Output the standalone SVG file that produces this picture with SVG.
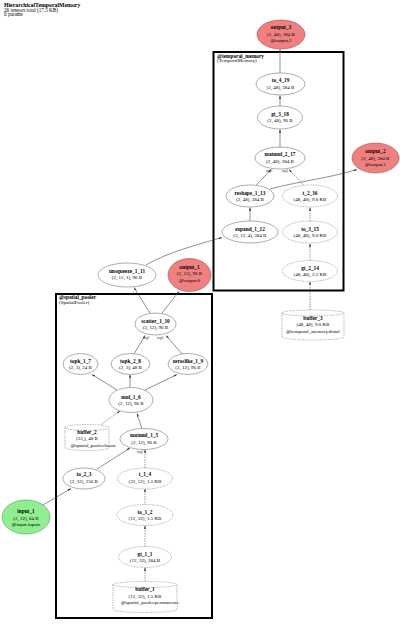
<svg xmlns="http://www.w3.org/2000/svg" width="400" height="624" viewBox="0 0 400 624">
<defs>
<marker id="ah" viewBox="0 0 6 4" refX="6" refY="2" markerWidth="3.2" markerHeight="2.2" markerUnits="userSpaceOnUse" orient="auto"><path d="M0,0 L6,2 L0,4 z" fill="#333"/></marker>
</defs>
<style>
text{font-family:"Liberation Serif","Times New Roman",serif;fill:#000}
.n{font-weight:bold;font-size:5.3px}
.d{font-size:5px}
.t{font-weight:bold;font-size:5.8px}
.s{font-size:5.2px}
.cl{font-weight:bold;font-size:5.3px}
.el{font-size:3.6px;fill:#333}
.nd{fill:#fff;stroke:#777;stroke-width:0.6}
.dn{fill:#fff;stroke:#888;stroke-width:0.6;stroke-dasharray:1.5,1}
.out{fill:#f08080;stroke:#a05050;stroke-width:0.6}
.inp{fill:#90ee90;stroke:#50a050;stroke-width:0.6}
.clu{fill:none;stroke:#000;stroke-width:2}
.e{fill:none;stroke:#444;stroke-width:0.6;marker-end:url(#ah)}
.ed{fill:none;stroke:#555;stroke-width:0.6;stroke-dasharray:1.5,1;marker-end:url(#ah)}
</style>
<rect width="400" height="624" fill="#fff"/>
<g id="title">
<text class="t" x="4" y="7">HierarchicalTemporalMemory</text>
<text class="s" x="4" y="11.5">26 tensors total (17.5 KB)</text>
<text class="s" x="4" y="16">0 params</text>
</g>
<g id="cluster_temporal_memory">
<rect class="clu" x="213.5" y="52" width="130" height="238.5"/>
<text class="cl" x="217" y="57.5">@temporal_memory</text>
<text class="d" x="217" y="62">(TemporalMemory)</text>
</g>
<g id="cluster_spatial_pooler">
<rect class="clu" x="56" y="294" width="156" height="324"/>
<text class="cl" x="59" y="299">@spatial_pooler</text>
<text class="d" x="59" y="303.5">(SpatialPooler)</text>
</g>
<g id="edges">
<path class="ed" d="M145,581.5 L145,567.5"/>
<path class="ed" d="M145,547 L145,525.5"/>
<path class="ed" d="M145,505 L145,488.5"/>
<path class="ed" d="M145,468 L145,449.5"/>
<path class="e" d="M43,505 L71,488.5"/>
<path class="e" d="M97,469 L130,448"/>
<path class="e" d="M142,429 L137,413.5"/>
<path class="ed" d="M101,424.5 L120,411"/>
<path class="e" d="M117,390 L92,374.5"/>
<path class="e" d="M130,387 L130,374.5"/>
<path class="e" d="M145,390 L177,374.5"/>
<path class="e" d="M134,354 L145,335.5"/>
<path class="e" d="M182,354 L166,335.5"/>
<path class="e" d="M150,313 L134,287.5"/>
<path class="e" d="M162,313 L179,291.5"/>
<path class="e" d="M146,265 C168,252 200,244 222,237.5"/>
<path class="e" d="M250,221 L250,207.5"/>
<path class="e" d="M256,185.5 L271,169.5"/>
<path class="e" d="M270,189 C300,181 330,178 357,169.5"/>
<path class="ed" d="M310,310 L310,281.5"/>
<path class="ed" d="M310,260.5 L310,243.5"/>
<path class="ed" d="M310,221.5 L310,207.5"/>
<path class="ed" d="M304,185.5 L289,169.5"/>
<path class="e" d="M280,147 L280,129.5"/>
<path class="e" d="M280,106 L280,95.5"/>
<path class="e" d="M280,73 L280,49.5"/>
<text class="el" x="266" y="172">arg0</text>
<text class="el" x="282" y="172">arg1</text>
<text class="el" x="143" y="339">arg2</text>
<text class="el" x="157" y="339">arg0</text>
<text class="el" x="137" y="452.5">arg1</text>
</g>
<g id="output_3">
<ellipse class="out" cx="281" cy="34.5" rx="24" ry="14.5"/>
<text class="n" x="281" y="28.5" text-anchor="middle">output_3</text>
<text class="d" x="281" y="35.5" text-anchor="middle">(2, 48), 384 B</text>
<text class="d" x="281" y="42" text-anchor="middle">@output.2</text>
</g>
<g id="to_4_19">
<ellipse class="nd" cx="280.5" cy="84" rx="24.5" ry="11"/>
<text class="n" x="280.5" y="82" text-anchor="middle">to_4_19</text>
<text class="d" x="280.5" y="88.5" text-anchor="middle">(2, 48), 384 B</text>
</g>
<g id="gt_3_18">
<ellipse class="nd" cx="280" cy="117.5" rx="22.5" ry="11.5"/>
<text class="n" x="280" y="115.5" text-anchor="middle">gt_3_18</text>
<text class="d" x="280" y="122" text-anchor="middle">(2, 48), 96 B</text>
</g>
<g id="matmul_2_17">
<ellipse class="nd" cx="280" cy="158" rx="25" ry="11"/>
<text class="n" x="280" y="156" text-anchor="middle">matmul_2_17</text>
<text class="d" x="280" y="162.5" text-anchor="middle">(2, 48), 384 B</text>
</g>
<g id="output_2">
<ellipse class="out" cx="375.5" cy="158" rx="23.5" ry="15"/>
<text class="n" x="375.5" y="153" text-anchor="middle">output_2</text>
<text class="d" x="375.5" y="159.5" text-anchor="middle">(2, 48), 384 B</text>
<text class="d" x="375.5" y="166" text-anchor="middle">@output.1</text>
</g>
<g id="reshape_1_13">
<ellipse class="nd" cx="250" cy="196" rx="24" ry="11"/>
<text class="n" x="250" y="194.5" text-anchor="middle">reshape_1_13</text>
<text class="d" x="250" y="201" text-anchor="middle">(2, 48), 384 B</text>
</g>
<g id="t_2_16">
<ellipse class="dn" cx="310" cy="196" rx="27.5" ry="11"/>
<text class="n" x="310" y="194.5" text-anchor="middle">t_2_16</text>
<text class="d" x="310" y="201" text-anchor="middle">(48, 48), 9.0 KB</text>
</g>
<g id="expand_1_12">
<ellipse class="nd" cx="250" cy="232" rx="28" ry="11"/>
<text class="n" x="250" y="230.5" text-anchor="middle">expand_1_12</text>
<text class="d" x="250" y="237" text-anchor="middle">(2, 12, 4), 384 B</text>
</g>
<g id="to_3_15">
<ellipse class="dn" cx="310" cy="232" rx="27.5" ry="11"/>
<text class="n" x="310" y="230.5" text-anchor="middle">to_3_15</text>
<text class="d" x="310" y="237" text-anchor="middle">(48, 48), 9.0 KB</text>
</g>
<g id="gt_2_14">
<ellipse class="dn" cx="310" cy="271" rx="27.5" ry="10.5"/>
<text class="n" x="310" y="269.5" text-anchor="middle">gt_2_14</text>
<text class="d" x="310" y="276" text-anchor="middle">(48, 48), 2.2 KB</text>
</g>
<g id="buffer_3">
<path class="dn" d="M282,313 A31,3 0 0 1 344,313 A31,3 0 0 1 282,313 M282,313 L282,337 A31,3 0 0 0 344,337 L344,313"/>
<text class="n" x="313" y="319.5" text-anchor="middle">buffer_3</text>
<text class="d" x="313" y="326" text-anchor="middle">(48, 48), 9.0 KB</text>
<text class="d" x="313" y="332.5" text-anchor="middle">@temporal_memory.distal</text>
</g>
<g id="unsqueeze_1_11">
<ellipse class="nd" cx="127" cy="275" rx="29" ry="12"/>
<text class="n" x="127" y="272.5" text-anchor="middle">unsqueeze_1_11</text>
<text class="d" x="127" y="279" text-anchor="middle">(2, 12, 1), 96 B</text>
</g>
<g id="output_1">
<ellipse class="out" cx="189.5" cy="275" rx="21.5" ry="16.5"/>
<text class="n" x="189.5" y="268.5" text-anchor="middle">output_1</text>
<text class="d" x="189.5" y="275" text-anchor="middle">(2, 12), 96 B</text>
<text class="d" x="189.5" y="281.5" text-anchor="middle">@output.0</text>
</g>
<g id="scatter_1_10">
<ellipse class="nd" cx="155.5" cy="324" rx="20.5" ry="11"/>
<text class="n" x="155.5" y="322.5" text-anchor="middle">scatter_1_10</text>
<text class="d" x="155.5" y="329" text-anchor="middle">(2, 12), 96 B</text>
</g>
<g id="topk_1_7">
<ellipse class="nd" cx="80.5" cy="364" rx="17.5" ry="10.5"/>
<text class="n" x="80.5" y="362.5" text-anchor="middle">topk_1_7</text>
<text class="d" x="80.5" y="369" text-anchor="middle">(2, 3), 24 B</text>
</g>
<g id="topk_2_8">
<ellipse class="nd" cx="130.5" cy="364" rx="19.5" ry="10.5"/>
<text class="n" x="130.5" y="362.5" text-anchor="middle">topk_2_8</text>
<text class="d" x="130.5" y="369" text-anchor="middle">(2, 3), 48 B</text>
</g>
<g id="zeroslike_1_9">
<ellipse class="nd" cx="188" cy="364" rx="20" ry="10.5"/>
<text class="n" x="188" y="362.5" text-anchor="middle">zeroslike_1_9</text>
<text class="d" x="188" y="369" text-anchor="middle">(2, 12), 96 B</text>
</g>
<g id="mul_1_6">
<ellipse class="nd" cx="131" cy="400" rx="22" ry="12.5"/>
<text class="n" x="131" y="398.5" text-anchor="middle">mul_1_6</text>
<text class="d" x="131" y="405" text-anchor="middle">(2, 12), 96 B</text>
</g>
<g id="buffer_2">
<path class="dn" d="M65,427.5 A22,3 0 0 1 109,427.5 A22,3 0 0 1 65,427.5 M65,427.5 L65,447.5 A22,3 0 0 0 109,447.5 L109,427.5"/>
<text class="n" x="87" y="433.5" text-anchor="middle">buffer_2</text>
<text class="d" x="87" y="440" text-anchor="middle">(12,), 48 B</text>
<text class="d" x="93" y="446.5" text-anchor="middle">@spatial_pooler.boost</text>
</g>
<g id="matmul_1_5">
<ellipse class="nd" cx="144" cy="439" rx="24" ry="10.5"/>
<text class="n" x="144" y="437" text-anchor="middle">matmul_1_5</text>
<text class="d" x="144" y="443.5" text-anchor="middle">(2, 12), 96 B</text>
</g>
<g id="to_2_3">
<ellipse class="nd" cx="84" cy="478.5" rx="21" ry="10.5"/>
<text class="n" x="84" y="476" text-anchor="middle">to_2_3</text>
<text class="d" x="84" y="482.5" text-anchor="middle">(2, 32), 256 B</text>
</g>
<g id="t_1_4">
<ellipse class="dn" cx="145" cy="478.5" rx="27.5" ry="10.5"/>
<text class="n" x="145" y="476" text-anchor="middle">t_1_4</text>
<text class="d" x="145" y="482.5" text-anchor="middle">(32, 12), 1.5 KB</text>
</g>
<g id="input_1">
<ellipse class="inp" cx="26" cy="517" rx="24" ry="17"/>
<text class="n" x="26" y="513" text-anchor="middle">input_1</text>
<text class="d" x="26" y="519.5" text-anchor="middle">(2, 32), 64 B</text>
<text class="d" x="26" y="526" text-anchor="middle">@input.inputs</text>
</g>
<g id="to_1_2">
<ellipse class="dn" cx="145" cy="515" rx="28" ry="10.5"/>
<text class="n" x="145" y="513.5" text-anchor="middle">to_1_2</text>
<text class="d" x="145" y="520" text-anchor="middle">(12, 32), 1.5 KB</text>
</g>
<g id="gt_1_1">
<ellipse class="dn" cx="145" cy="557" rx="26.5" ry="10.5"/>
<text class="n" x="145" y="555.5" text-anchor="middle">gt_1_1</text>
<text class="d" x="145" y="562" text-anchor="middle">(12, 32), 384 B</text>
</g>
<g id="buffer_1">
<path class="dn" d="M113,584.5 A32,3 0 0 1 177,584.5 A32,3 0 0 1 113,584.5 M113,584.5 L113,609.5 A32,3 0 0 0 177,609.5 L177,584.5"/>
<text class="n" x="145" y="591" text-anchor="middle">buffer_1</text>
<text class="d" x="145" y="597.5" text-anchor="middle">(12, 32), 1.5 KB</text>
<text class="d" x="150" y="604" text-anchor="middle">@spatial_pooler.permanence</text>
</g>
</svg>
